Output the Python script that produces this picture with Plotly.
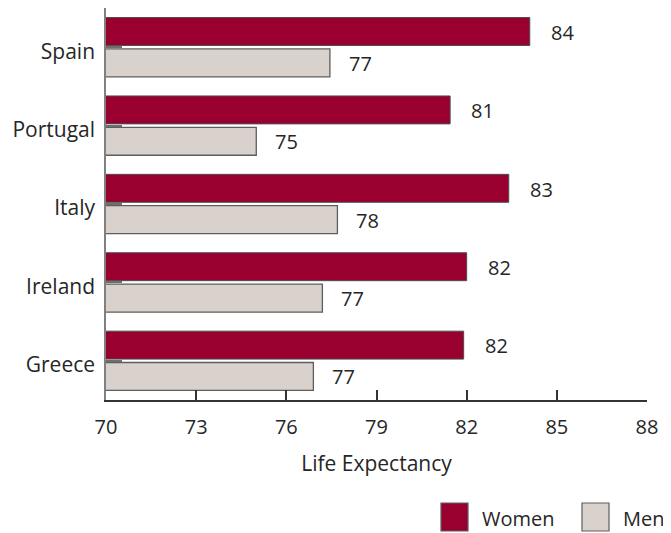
import plotly.graph_objects as go

countries = ["Spain", "Portugal", "Italy", "Ireland", "Greece"]
women = [84.1, 81.45, 83.4, 82.0, 81.9]
men = [77.45, 75.0, 77.7, 77.2, 76.9]
x_ticks = [70, 73, 76, 79, 82, 85, 88]
x_title = "Life Expectancy"
series_names = ["Women", "Men"]

WOMEN_COLOR = "#990030"
MEN_COLOR = "#d9d1cc"
FONT = "Open Sans"
TXT = "#262626"

# figure sits 8px inside the page (body margin)
W, H = 655, 525
L, T, PW, PH = 98, 0, 541, 392

fig = go.Figure()
fig.add_trace(go.Bar(y=countries, x=women, name=series_names[0], orientation="h",
                     marker=dict(color=WOMEN_COLOR, line=dict(color="#4d4d4d", width=1)),
                     showlegend=False))
fig.add_trace(go.Bar(y=countries, x=men, name=series_names[1], orientation="h",
                     marker=dict(color=MEN_COLOR, line=dict(color="#5e5e5e", width=1.3)),
                     showlegend=False))

annotations = []
for c, w, m in zip(countries, women, men):
    annotations.append(dict(x=w, y=c, xref="x", yref="y", text=f"{w:.0f}", showarrow=False,
                            xanchor="left", xshift=19, yshift=15,
                            font=dict(family=FONT, size=20, color=TXT)))
    annotations.append(dict(x=m, y=c, xref="x", yref="y", text=f"{m:.0f}", showarrow=False,
                            xanchor="left", xshift=17, yshift=-16,
                            font=dict(family=FONT, size=20, color=TXT)))


def px_x(v):
    return (v - L) / PW


def px_y(v):
    return (T + PH - v) / PH


# manual legend (large square swatches)
shapes = []
leg_items = [(series_names[0], WOMEN_COLOR, 433), (series_names[1], MEN_COLOR, 574)]
for name, col, sx in leg_items:
    shapes.append(dict(type="rect", xref="paper", yref="paper",
                       x0=px_x(sx), x1=px_x(sx + 27), y0=px_y(523), y1=px_y(495),
                       fillcolor=col, line=dict(color="#5e5e5e", width=1.2)))
    annotations.append(dict(x=px_x(sx + 39), y=px_y(510), xref="paper", yref="paper",
                            text=name, showarrow=False, xanchor="left", yanchor="middle",
                            font=dict(family=FONT, size=20, color=TXT)))

fig.update_layout(
    width=W, height=H,
    margin=dict(l=L, r=W - L - PW, t=T, b=H - T - PH, pad=0),
    paper_bgcolor="white", plot_bgcolor="white",
    barmode="group", bargap=0.2, bargroupgap=0.11,
    font=dict(family=FONT, size=21, color=TXT),
    annotations=annotations, shapes=shapes,
    showlegend=False,
)
fig.update_xaxes(range=[70, 88], tickvals=x_ticks, ticktext=[str(t) for t in x_ticks],
                 ticks="inside", ticklen=10, tickcolor="#333", tickwidth=1.5,
                 showline=True, linecolor="#333", linewidth=1.5,
                 showgrid=False, zeroline=False, ticklabelstandoff=8,
                 tickfont=dict(family=FONT, size=20, color=TXT),
                 title=dict(text=x_title, standoff=18, font=dict(family=FONT, size=21, color=TXT)))
fig.update_yaxes(autorange="reversed", ticks="inside", ticklen=16, tickcolor="#6e6e6e", tickwidth=2,
                 showline=True, linecolor="#808080", linewidth=1.5,
                 showgrid=False, zeroline=False, ticklabelstandoff=5, ticklabelshift=-4,
                 tickfont=dict(family=FONT, size=21, color=TXT))

fig.write_html("out.html")
